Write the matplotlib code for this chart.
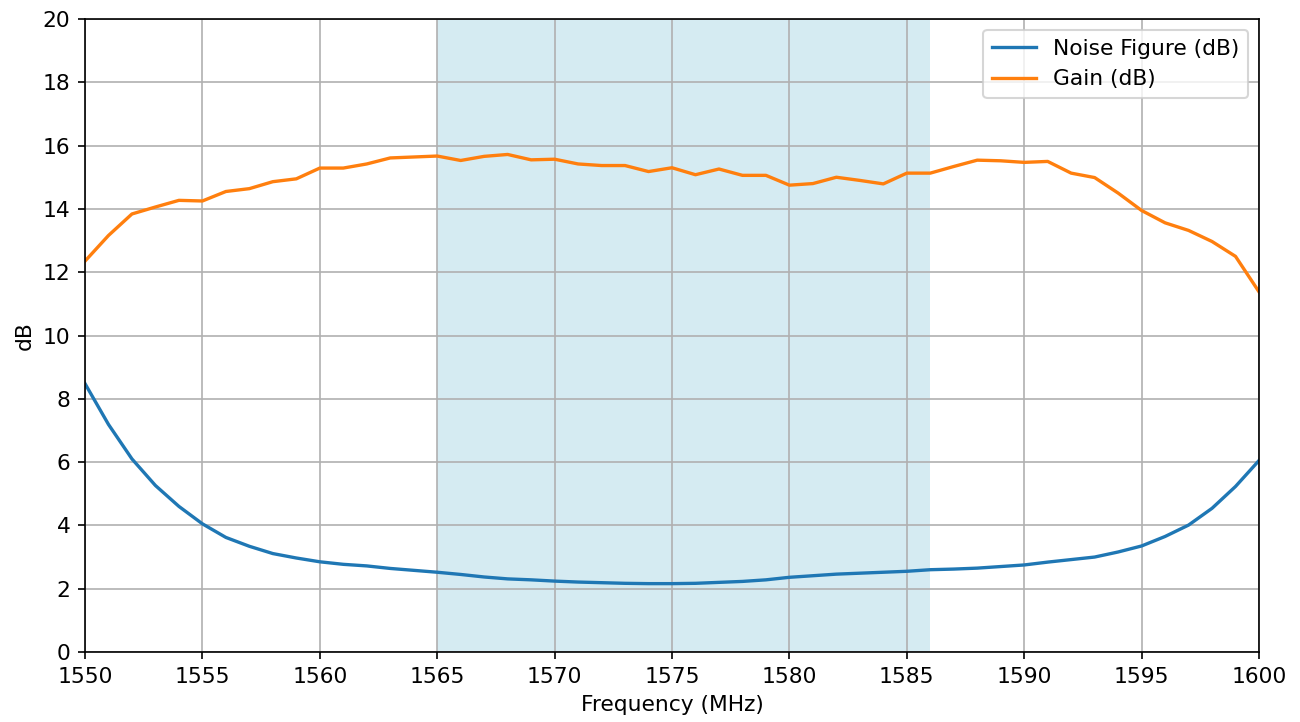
import numpy as np
import matplotlib
matplotlib.use("Agg")
from matplotlib import pyplot as plt

# frequency points, 1 MHz steps
freq = np.arange(1550, 1601)

noise_figure = [8.48, 7.19, 6.10, 5.26, 4.60, 4.05, 3.62, 3.34, 3.11, 2.97,
                2.85, 2.77, 2.72, 2.64, 2.58, 2.52, 2.45, 2.37, 2.31, 2.28,
                2.24, 2.21, 2.19, 2.17, 2.16, 2.16, 2.17, 2.20, 2.23, 2.28,
                2.36, 2.41, 2.46, 2.49, 2.52, 2.55, 2.60, 2.62, 2.65, 2.70,
                2.75, 2.84, 2.92, 3.00, 3.16, 3.35, 3.65, 4.01, 4.54, 5.23,
                6.05]

gain = [12.35, 13.16, 13.84, 14.06, 14.27, 14.25, 14.55, 14.64, 14.86, 14.95,
        15.29, 15.29, 15.42, 15.61, 15.64, 15.67, 15.53, 15.66, 15.72, 15.55,
        15.57, 15.42, 15.37, 15.37, 15.18, 15.30, 15.08, 15.26, 15.06, 15.06,
        14.75, 14.80, 15.00, 14.90, 14.79, 15.13, 15.13, 15.34, 15.54, 15.52,
        15.47, 15.50, 15.13, 14.99, 14.50, 13.95, 13.56, 13.32, 12.97, 12.50,
        11.38]

# band of interest
band_start = 1565
band_stop = 1586

plt.rcParams["font.size"] = 10.45
plt.rcParams["lines.linewidth"] = 1.6

fig, ax = plt.subplots(figsize=(1300 / 150, 722 / 150), dpi=150)
fig.subplots_adjust(left=85 / 1300, right=1259 / 1300, top=1 - 19 / 722, bottom=1 - 652 / 722)

ax.axvspan(band_start, band_stop, color="lightblue", alpha=0.5, linewidth=0)
ax.plot(freq, noise_figure, label="Noise Figure (dB)")
ax.plot(freq, gain, label="Gain (dB)")

ax.set_xlim(1550, 1600)
ax.set_ylim(0, 20)
ax.set_xticks(np.arange(1550, 1601, 5))
ax.set_yticks(np.arange(0, 21, 2))
ax.set_xlabel("Frequency (MHz)")
ax.set_ylabel("dB")
ax.grid(True)
ax.legend(loc="upper right")

fig.savefig("out.png", dpi=150)
